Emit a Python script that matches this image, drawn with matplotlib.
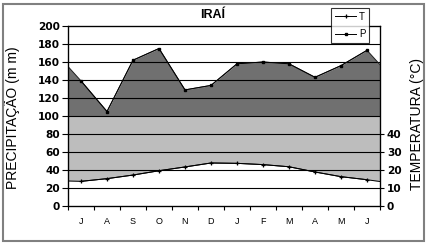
import numpy as np
import matplotlib.pyplot as plt
from matplotlib.patches import Rectangle

months = ['J', 'A', 'S', 'O', 'N', 'D', 'J', 'F', 'M', 'A', 'M', 'J']
precip = [139, 105, 162, 175, 129, 134, 158, 160, 158, 143, 156, 173]
temp = [13.7, 15.2, 17.2, 19.6, 21.7, 23.9, 23.7, 23.0, 21.8, 18.9, 16.3, 14.6]
# values where the filled areas meet the left / right border of the plot
precip_edges = [155, 157]
temp_edges = [13.9, 13.6]

x = np.arange(len(months))
xa = np.concatenate([[-0.5], x, [len(months) - 0.5]])
pa = np.array([precip_edges[0]] + precip + [precip_edges[1]], dtype=float)
ta = np.array([temp_edges[0]] + temp + [temp_edges[1]], dtype=float)

fig = plt.figure(figsize=(4.27, 2.43), dpi=100)
ax = fig.add_axes([68/427, 1-206/243, 312/427, 180/243])
ax.set_xlim(-0.5, 11.5)
ax.set_ylim(0, 200)

dark = '#707070'
light = '#bdbdbd'
ax.fill_between(xa, 100, pa, color=dark, lw=0, zorder=1)
ax.fill_between(xa, ta * 2, 100, color=light, lw=0, zorder=1)
for yv in range(20, 200, 20):
    ax.axhline(yv, color='black', lw=0.8, zorder=2)

ax.plot(xa, pa, color='#202020', lw=0.7, zorder=3)
ax.plot(xa, ta * 2, color='black', lw=0.7, zorder=3)
lt, = ax.plot(x, ta[1:-1] * 2, color='black', lw=0.7, marker='+', ms=3.5, mew=0.9, zorder=4, label='T')
lp, = ax.plot(x, precip, color='black', lw=0.7, marker='s', ms=2, zorder=4, label='P')

for s in ax.spines.values():
    s.set_linewidth(0.9)
ax.set_yticks(range(0, 201, 20))
ax.set_yticklabels([str(v) for v in range(0, 201, 20)], family='DejaVu Sans',
                   fontweight='bold', fontsize=7.6)
ax.tick_params(axis='y', length=4, width=0.8, pad=2)
ax.set_xticks(x)
ax.set_xticklabels(months, family='Liberation Sans', fontsize=6.5)
ax.tick_params(axis='x', length=0, pad=8)
ax.set_xticks(np.arange(-0.5, 12, 1), minor=True)
ax.tick_params(axis='x', which='minor', length=3, width=0.8)
ax.set_ylabel('PRECIPITAÇÃO (m m)', family='Liberation Sans', fontsize=10)
ax.yaxis.set_label_coords(-0.154, 0.489)

ax2 = ax.twinx()
ax2.set_ylim(0, 100)
ax2.set_yticks(range(0, 41, 10))
ax2.set_yticklabels([str(v) for v in range(0, 41, 10)], family='DejaVu Sans',
                    fontweight='bold', fontsize=7.6)
ax2.tick_params(axis='y', length=3, width=0.8, pad=2)
ax2.set_ylabel('TEMPERATURA (°C)', family='Liberation Sans', fontsize=10,
               va='center')
ax2.yaxis.set_label_coords(1.119, 0.456)

fig.text(213/427, 1-15/243, 'IRAÍ', family='Liberation Sans', fontweight='bold',
         fontsize=9, ha='center', va='center')

leg = fig.legend(handles=[lt, lp], loc='upper left', bbox_to_anchor=(331/427, 1-8/243),
                 prop={'family': 'Liberation Sans', 'size': 7}, frameon=True,
                 fancybox=False, edgecolor='black', handlelength=2.2, handletextpad=0.3,
                 borderpad=0.4, labelspacing=0.75, borderaxespad=0)
leg.get_frame().set_linewidth(0.8)
leg.set_zorder(10)

fig.patches.append(Rectangle((3/427, 2/243), 421/427, 237/243, transform=fig.transFigure,
                             fill=False, edgecolor='#808080', lw=1.5))

fig.savefig('out.png', dpi=100)
